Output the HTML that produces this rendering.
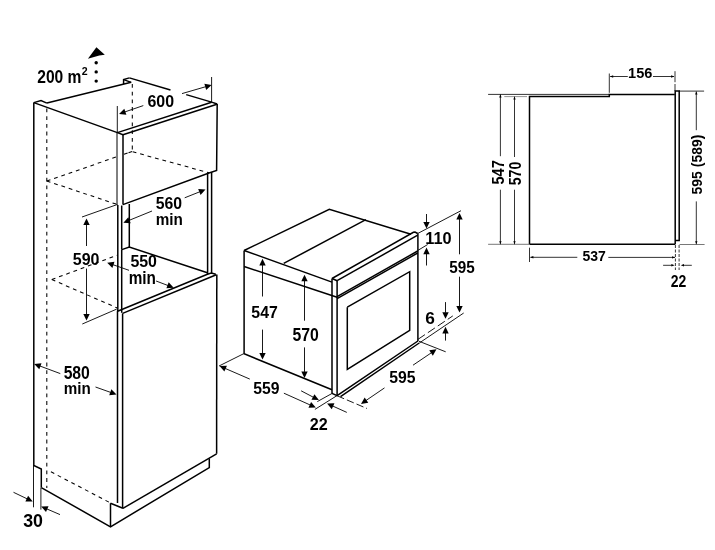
<!DOCTYPE html>
<html><head><meta charset="utf-8"><style>
html,body{margin:0;padding:0;background:#fff;width:715px;height:550px;overflow:hidden}
svg{display:block;will-change:transform}
text{font-family:"Liberation Sans",sans-serif;font-weight:bold;font-size:100px;fill:#000}
</style></head><body>
<svg width="715" height="550" viewBox="0 0 715 550">
<rect width="715" height="550" fill="#fff"/>
<path d="M33.80,102.60 L33.80,465.50 L41.30,469.00 L41.30,487.60" stroke="#000" stroke-width="1.5" fill="none"/>
<path d="M41.30,487.60 L110.50,526.80 L209.30,467.60 L209.30,458.40" stroke="#000" stroke-width="1.5" fill="none"/>
<path d="M110.50,503.30 L110.50,526.80" stroke="#000" stroke-width="1.5" fill="none"/>
<path d="M110.50,503.30 L122.90,508.30" stroke="#000" stroke-width="1.5" fill="none"/>
<path d="M33.80,102.60 L117.40,132.60 L123.00,134.70" stroke="#000" stroke-width="1.5" fill="none"/>
<path d="M33.80,102.60 L41.00,100.60 L46.90,103.10" stroke="#000" stroke-width="1.5" fill="none"/>
<path d="M46.90,103.10 L131.20,82.30" stroke="#000" stroke-width="1.5" fill="none"/>
<path d="M123.60,84.00 L123.60,79.50 L129.40,77.90" stroke="#000" stroke-width="1.5" fill="none"/>
<path d="M123.60,79.60 L131.20,82.40" stroke="#000" stroke-width="1.5" fill="none"/>
<path d="M129.40,77.90 L170.50,90.00" stroke="#000" stroke-width="1.5" fill="none"/>
<path d="M186.20,94.60 L211.60,102.10 L217.20,104.00" stroke="#000" stroke-width="1.5" fill="none"/>
<path d="M117.40,132.60 L211.60,102.30" stroke="#000" stroke-width="1.5" fill="none"/>
<path d="M123.00,134.70 L216.90,104.30" stroke="#000" stroke-width="1.5" fill="none"/>
<path d="M217.20,104.00 L216.60,170.50 L209.00,173.00 L122.90,204.60" stroke="#000" stroke-width="1.5" fill="none"/>
<path d="M117.00,132.60 L117.00,205.00" stroke="#000" stroke-width="1.0" fill="none"/>
<path d="M117.80,205.00 L117.80,310.00 L117.50,311.50 L117.50,502.90" stroke="#000" stroke-width="1.5" fill="none"/>
<path d="M123.00,134.70 L123.00,204.60" stroke="#000" stroke-width="1.5" fill="none"/>
<path d="M121.70,205.50 L121.70,249.60" stroke="#000" stroke-width="1.5" fill="none"/>
<path d="M121.70,249.60 L121.70,312.80" stroke="#000" stroke-width="1.5" fill="none"/>
<path d="M122.60,313.40 L122.60,508.30" stroke="#000" stroke-width="1.5" fill="none"/>
<path d="M129.30,204.00 L129.30,247.00" stroke="#000" stroke-width="1.5" fill="none"/>
<path d="M121.80,249.60 L129.30,247.00 L207.40,272.80" stroke="#000" stroke-width="1.5" fill="none"/>
<path d="M207.60,173.00 L207.60,274.20" stroke="#000" stroke-width="1.5" fill="none"/>
<path d="M211.60,172.00 L211.60,273.10" stroke="#000" stroke-width="1.5" fill="none"/>
<path d="M117.60,311.20 L207.40,274.20 L211.30,273.10 L215.80,274.30" stroke="#000" stroke-width="1.5" fill="none"/>
<path d="M122.60,313.40 L216.30,274.80" stroke="#000" stroke-width="1.5" fill="none"/>
<path d="M216.80,274.40 L216.60,453.80" stroke="#000" stroke-width="1.5" fill="none"/>
<path d="M122.90,508.30 L216.60,453.80" stroke="#000" stroke-width="1.5" fill="none"/>
<path d="M46.80,108.50 L46.80,488.00" stroke="#000" stroke-width="1.05" fill="none" stroke-dasharray="3.8,3.9"/>
<path d="M132.30,84.00 L132.30,151.50" stroke="#000" stroke-width="1.05" fill="none" stroke-dasharray="3.8,3.9"/>
<path d="M46.80,181.00 L117.00,156.70" stroke="#000" stroke-width="1.05" fill="none" stroke-dasharray="3.8,3.9"/>
<path d="M124.00,154.30 L132.50,151.30" stroke="#000" stroke-width="1.05" fill="none" stroke-dasharray="3.8,1"/>
<path d="M132.70,151.80 L209.00,172.80" stroke="#000" stroke-width="1.05" fill="none" stroke-dasharray="3.8,3.9"/>
<path d="M46.80,181.00 L117.30,204.50" stroke="#000" stroke-width="1.05" fill="none" stroke-dasharray="3.8,3.9"/>
<path d="M51.80,279.50 L117.30,255.20" stroke="#000" stroke-width="1.05" fill="none" stroke-dasharray="3.8,3.9"/>
<path d="M51.80,279.50 L117.30,308.00" stroke="#000" stroke-width="1.05" fill="none" stroke-dasharray="3.8,3.9"/>
<path d="M50.90,471.80 L110.00,502.70" stroke="#000" stroke-width="1.05" fill="none" stroke-dasharray="3.8,3.9"/>
<text transform="translate(37.25,83.42) scale(0.1561,0.1775)">200 m</text>
<text transform="translate(81.83,75.20) scale(0.1062,0.1071)">2</text>
<circle cx="96.2" cy="62.7" r="1.7" fill="#000"/>
<circle cx="96.2" cy="71.9" r="1.7" fill="#000"/>
<circle cx="96.2" cy="81.1" r="1.7" fill="#000"/>
<path d="M96.4,47.3L87.9,58.8L99.3,55.6L104.8,54.7Z" fill="#000"/>
<path d="M117.30,106.00 L117.30,132.60" stroke="#000" stroke-width="0.9" fill="none"/>
<path d="M211.60,77.00 L211.60,102.00" stroke="#000" stroke-width="0.9" fill="none"/>
<path d="M143.30,105.60 L124.87,111.92" stroke="#000" stroke-width="0.9" fill="none"/>
<path d="M119.10,113.90L124.30,108.73L126.38,114.79Z" fill="#000"/>
<path d="M182.00,93.60 L205.74,86.70" stroke="#000" stroke-width="0.9" fill="none"/>
<path d="M211.60,85.00L206.15,89.91L204.37,83.77Z" fill="#000"/>
<text transform="translate(147.44,106.83) scale(0.1597,0.1662)">600</text>
<path d="M152.00,211.00 L129.05,220.39" stroke="#000" stroke-width="0.9" fill="none"/>
<path d="M123.40,222.70L128.30,217.24L130.72,223.16Z" fill="#000"/>
<path d="M184.70,197.80 L199.83,191.76" stroke="#000" stroke-width="0.9" fill="none"/>
<path d="M205.50,189.50L200.56,194.92L198.18,188.97Z" fill="#000"/>
<text transform="translate(155.63,208.54) scale(0.1580,0.1648)">560</text>
<text transform="translate(155.81,224.70) scale(0.1527,0.1655)">min</text>
<path d="M82.00,217.00 L117.30,204.50" stroke="#000" stroke-width="0.9" fill="none"/>
<path d="M82.30,324.00 L116.70,309.10" stroke="#000" stroke-width="0.9" fill="none"/>
<path d="M86.50,246.00 L86.50,224.50" stroke="#000" stroke-width="0.9" fill="none"/>
<path d="M86.50,218.40L89.70,225.00L83.30,225.00Z" fill="#000"/>
<path d="M86.50,268.60 L86.50,314.50" stroke="#000" stroke-width="0.9" fill="none"/>
<path d="M86.50,320.60L83.30,314.00L89.70,314.00Z" fill="#000"/>
<text transform="translate(72.82,264.74) scale(0.1599,0.1606)">590</text>
<path d="M129.00,270.30 L112.96,264.71" stroke="#000" stroke-width="0.9" fill="none"/>
<path d="M107.20,262.70L114.49,261.85L112.38,267.89Z" fill="#000"/>
<path d="M156.10,281.00 L168.00,285.53" stroke="#000" stroke-width="0.9" fill="none"/>
<path d="M173.70,287.70L166.39,288.34L168.67,282.36Z" fill="#000"/>
<text transform="translate(130.42,266.64) scale(0.1592,0.1606)">550</text>
<text transform="translate(128.70,283.80) scale(0.1533,0.1779)">min</text>
<path d="M60.30,373.60 L39.92,366.03" stroke="#000" stroke-width="0.9" fill="none"/>
<path d="M34.20,363.90L41.50,363.20L39.27,369.20Z" fill="#000"/>
<path d="M95.50,387.00 L110.76,392.45" stroke="#000" stroke-width="0.9" fill="none"/>
<path d="M116.50,394.50L109.21,395.29L111.36,389.27Z" fill="#000"/>
<text transform="translate(63.63,378.57) scale(0.1574,0.1768)">580</text>
<text transform="translate(63.81,394.20) scale(0.1521,0.1710)">min</text>
<path d="M33.50,465.50 L33.50,507.30" stroke="#000" stroke-width="0.9" fill="none"/>
<path d="M40.90,487.60 L40.90,509.60" stroke="#000" stroke-width="0.9" fill="none"/>
<path d="M13.50,492.30 L27.20,498.86" stroke="#000" stroke-width="0.9" fill="none"/>
<path d="M32.70,501.50L25.37,501.53L28.13,495.76Z" fill="#000"/>
<path d="M60.00,514.60 L46.80,508.91" stroke="#000" stroke-width="0.9" fill="none"/>
<path d="M41.20,506.50L48.53,506.17L46.00,512.05Z" fill="#000"/>
<text transform="translate(23.16,527.42) scale(0.1780,0.1845)">30</text>
<path d="M244.10,250.50 L329.30,209.30 L411.00,234.20" stroke="#000" stroke-width="1.5" fill="none"/>
<path d="M244.10,250.50 L332.00,282.10" stroke="#000" stroke-width="1.5" fill="none"/>
<path d="M283.70,263.40 L365.90,219.60" stroke="#000" stroke-width="1.5" fill="none"/>
<path d="M244.10,250.50 L244.10,353.80 L332.00,389.80" stroke="#000" stroke-width="1.5" fill="none"/>
<path d="M244.10,266.50 L337.10,297.20" stroke="#000" stroke-width="1.5" fill="none"/>
<path d="M332.00,278.50 L332.00,393.40" stroke="#000" stroke-width="1.5" fill="none"/>
<path d="M337.10,280.70 L337.10,395.70" stroke="#000" stroke-width="1.5" fill="none"/>
<path d="M332.00,278.50 L337.10,280.70" stroke="#000" stroke-width="1.5" fill="none"/>
<path d="M332.00,278.50 L413.40,232.30 L415.00,232.00 L417.70,233.50" stroke="#000" stroke-width="1.5" fill="none"/>
<path d="M337.10,280.70 L417.70,235.20" stroke="#000" stroke-width="1.5" fill="none"/>
<path d="M417.90,233.50 L417.90,341.00" stroke="#000" stroke-width="1.5" fill="none"/>
<path d="M332.00,393.40 L337.10,395.70 L417.90,341.00" stroke="#000" stroke-width="1.5" fill="none"/>
<path d="M340.50,396.60 L419.20,343.00" stroke="#000" stroke-width="1.5" fill="none"/>
<path d="M337.10,296.60 L417.70,251.00" stroke="#000" stroke-width="1.5" fill="none"/>
<path d="M337.10,298.60 L417.70,253.00" stroke="#000" stroke-width="1.5" fill="none"/>
<path d="M347.30,307.20 L409.70,271.70 L409.70,330.40 L347.30,369.40 L347.30,307.20" stroke="#000" stroke-width="1.5" fill="none"/>
<path d="M262.50,296.50 L262.50,264.90" stroke="#000" stroke-width="0.9" fill="none"/>
<path d="M262.50,258.80L265.70,265.40L259.30,265.40Z" fill="#000"/>
<path d="M262.50,329.60 L262.50,353.40" stroke="#000" stroke-width="0.9" fill="none"/>
<path d="M262.50,359.50L259.30,352.90L265.70,352.90Z" fill="#000"/>
<text transform="translate(251.32,318.03) scale(0.1585,0.1743)">547</text>
<path d="M304.50,320.70 L304.50,280.80" stroke="#000" stroke-width="0.9" fill="none"/>
<path d="M304.50,274.70L307.70,281.30L301.30,281.30Z" fill="#000"/>
<path d="M304.50,347.40 L304.50,371.90" stroke="#000" stroke-width="0.9" fill="none"/>
<path d="M304.50,378.00L301.30,371.40L307.70,371.40Z" fill="#000"/>
<text transform="translate(292.53,341.33) scale(0.1580,0.1746)">570</text>
<path d="M243.70,353.70 L219.00,366.00" stroke="#000" stroke-width="0.9" fill="none"/>
<path d="M249.80,379.10 L225.20,368.43" stroke="#000" stroke-width="0.9" fill="none"/>
<path d="M219.60,366.00L226.93,365.69L224.38,371.56Z" fill="#000"/>
<path d="M283.90,393.20 L310.23,405.00" stroke="#000" stroke-width="0.9" fill="none"/>
<path d="M315.80,407.50L308.47,407.72L311.09,401.88Z" fill="#000"/>
<text transform="translate(253.23,393.54) scale(0.1575,0.1577)">559</text>
<path d="M332.50,393.20 L317.30,401.60" stroke="#000" stroke-width="0.9" fill="none"/>
<path d="M336.90,395.70 L314.90,409.40" stroke="#000" stroke-width="0.9" fill="none"/>
<path d="M301.10,390.80 L313.40,397.26" stroke="#000" stroke-width="0.9" fill="none"/>
<path d="M318.80,400.10L311.47,399.86L314.45,394.20Z" fill="#000"/>
<path d="M346.80,412.40 L332.66,406.01" stroke="#000" stroke-width="0.9" fill="none"/>
<path d="M327.10,403.50L334.43,403.30L331.80,409.13Z" fill="#000"/>
<text transform="translate(309.84,429.50) scale(0.1614,0.1600)">22</text>
<path d="M337.20,395.80 L367.00,408.50" stroke="#000" stroke-width="0.9" fill="none" stroke-dasharray="7.5,3"/>
<path d="M418.80,341.20 L445.70,351.80" stroke="#000" stroke-width="0.9" fill="none"/>
<path d="M384.50,387.90 L366.04,400.47" stroke="#000" stroke-width="0.9" fill="none"/>
<path d="M361.00,403.90L364.65,397.54L368.26,402.83Z" fill="#000"/>
<path d="M413.00,365.20 L431.45,352.72" stroke="#000" stroke-width="0.9" fill="none"/>
<path d="M436.50,349.30L432.83,355.65L429.24,350.35Z" fill="#000"/>
<text transform="translate(389.33,382.73) scale(0.1578,0.1662)">595</text>
<path d="M417.70,233.50 L461.00,210.70" stroke="#000" stroke-width="0.9" fill="none"/>
<path d="M419.30,343.00 L463.70,313.00" stroke="#000" stroke-width="0.9" fill="none"/>
<path d="M459.50,254.30 L459.50,219.00" stroke="#000" stroke-width="0.9" fill="none"/>
<path d="M459.50,212.90L462.70,219.50L456.30,219.50Z" fill="#000"/>
<path d="M459.50,276.70 L459.50,306.50" stroke="#000" stroke-width="0.9" fill="none"/>
<path d="M459.50,312.60L456.30,306.00L462.70,306.00Z" fill="#000"/>
<text transform="translate(449.34,273.14) scale(0.1528,0.1577)">595</text>
<path d="M417.70,250.50 L427.70,244.50" stroke="#000" stroke-width="0.9" fill="none"/>
<path d="M426.50,214.00 L426.50,222.50" stroke="#000" stroke-width="0.9" fill="none"/>
<path d="M426.50,228.60L423.30,222.00L429.70,222.00Z" fill="#000"/>
<path d="M426.50,265.50 L426.50,253.70" stroke="#000" stroke-width="0.9" fill="none"/>
<path d="M426.50,247.60L429.70,254.20L423.30,254.20Z" fill="#000"/>
<text transform="translate(425.24,243.63) scale(0.1635,0.1676)">110</text>
<path d="M417.90,339.40 L452.80,315.90" stroke="#000" stroke-width="0.9" fill="none" stroke-dasharray="8.5,3.5"/>
<path d="M445.50,302.10 L445.50,312.70" stroke="#000" stroke-width="0.9" fill="none"/>
<path d="M445.50,318.80L442.30,312.20L448.70,312.20Z" fill="#000"/>
<path d="M445.50,340.60 L445.50,332.90" stroke="#000" stroke-width="0.9" fill="none"/>
<path d="M445.50,326.80L448.70,333.40L442.30,333.40Z" fill="#000"/>
<text transform="translate(425.29,324.44) scale(0.1732,0.1634)">6</text>
<path d="M529.50,244.30 L529.50,96.60 L609.30,96.60 L609.30,94.40 L674.80,94.40" stroke="#000" stroke-width="1.5" fill="none"/>
<path d="M529.50,244.30 L675.20,244.30" stroke="#000" stroke-width="1.5" fill="none"/>
<path d="M675.20,244.30 L675.20,91.10 L679.20,91.10 L679.20,240.40 L675.20,240.40" stroke="#000" stroke-width="1.5" fill="none"/>
<path d="M488.10,94.40 L609.30,94.40" stroke="#000" stroke-width="0.8" fill="none"/>
<path d="M504.30,96.60 L527.00,96.60" stroke="#777" stroke-width="0.8" fill="none"/>
<path d="M488.10,244.30 L529.50,244.30" stroke="#555" stroke-width="0.8" fill="none"/>
<path d="M679.20,91.10 L704.10,91.10" stroke="#000" stroke-width="0.8" fill="none"/>
<path d="M679.50,244.50 L704.60,244.50" stroke="#555" stroke-width="0.8" fill="none"/>
<path d="M500.40,94.40 L500.40,156.20" stroke="#000" stroke-width="0.8" fill="none"/>
<path d="M500.40,189.70 L500.40,244.30" stroke="#000" stroke-width="0.8" fill="none"/>
<path d="M514.50,96.60 L514.50,157.00" stroke="#000" stroke-width="0.8" fill="none"/>
<path d="M514.50,189.70 L514.50,244.30" stroke="#000" stroke-width="0.8" fill="none"/>
<path d="M500.40,94.60L501.60,97.40L499.20,97.40Z" fill="#000"/>
<path d="M500.40,244.10L499.20,241.30L501.60,241.30Z" fill="#000"/>
<path d="M514.50,96.80L515.70,99.60L513.30,99.60Z" fill="#000"/>
<path d="M514.50,244.10L513.30,241.30L515.70,241.30Z" fill="#000"/>
<text transform="translate(503.84,184.43) rotate(-90) scale(0.1447,0.1586)">547</text>
<text transform="translate(520.94,185.22) rotate(-90) scale(0.1411,0.1648)">570</text>
<path d="M696.30,91.50 L696.30,130.20" stroke="#000" stroke-width="0.8" fill="none"/>
<path d="M696.30,201.40 L696.30,244.30" stroke="#000" stroke-width="0.8" fill="none"/>
<path d="M696.30,91.60L697.50,94.40L695.10,94.40Z" fill="#000"/>
<path d="M696.30,244.10L695.10,241.30L697.50,241.30Z" fill="#000"/>
<text transform="translate(702.27,194.42) rotate(-90) scale(0.1398,0.1540)">595 (589)</text>
<path d="M609.30,73.50 L609.30,92.80" stroke="#000" stroke-width="0.8" fill="none"/>
<path d="M675.00,71.20 L675.00,82.20" stroke="#000" stroke-width="0.8" fill="none"/>
<path d="M675.00,84.00 L675.00,91.00" stroke="#000" stroke-width="0.8" fill="none"/>
<path d="M610.10,76.50 L627.80,76.50" stroke="#000" stroke-width="0.8" fill="none"/>
<path d="M653.00,76.50 L674.00,76.50" stroke="#000" stroke-width="0.8" fill="none"/>
<path d="M610.00,76.50L613.20,75.30L613.20,77.70Z" fill="#000"/>
<path d="M674.30,76.50L671.10,77.70L671.10,75.30Z" fill="#000"/>
<text transform="translate(628.05,78.35) scale(0.1457,0.1465)">156</text>
<path d="M529.50,247.70 L529.50,262.00" stroke="#000" stroke-width="0.8" fill="none"/>
<path d="M530.40,257.30 L577.30,257.30" stroke="#000" stroke-width="0.8" fill="none"/>
<path d="M608.30,257.40 L675.00,257.40" stroke="#000" stroke-width="0.8" fill="none"/>
<path d="M530.20,257.30L533.40,256.10L533.40,258.50Z" fill="#000"/>
<path d="M675.20,257.40L672.00,258.60L672.00,256.20Z" fill="#000"/>
<text transform="translate(582.38,261.05) scale(0.1403,0.1493)">537</text>
<path d="M675.40,245.00 L675.40,270.00" stroke="#000" stroke-width="0.8" fill="none" stroke-dasharray="3,1.5"/>
<path d="M679.10,245.00 L679.10,270.00" stroke="#000" stroke-width="0.8" fill="none" stroke-dasharray="3,1.5"/>
<path d="M663.10,265.30 L672.00,265.30" stroke="#000" stroke-width="0.8" fill="none"/>
<path d="M674.60,265.30L671.40,266.50L671.40,264.10Z" fill="#000"/>
<path d="M683.50,265.30 L691.80,265.30" stroke="#000" stroke-width="0.8" fill="none"/>
<path d="M680.80,265.30L684.00,264.10L684.00,266.50Z" fill="#000"/>
<text transform="translate(670.71,287.40) scale(0.1401,0.1586)">22</text>
</svg>
</body></html>
